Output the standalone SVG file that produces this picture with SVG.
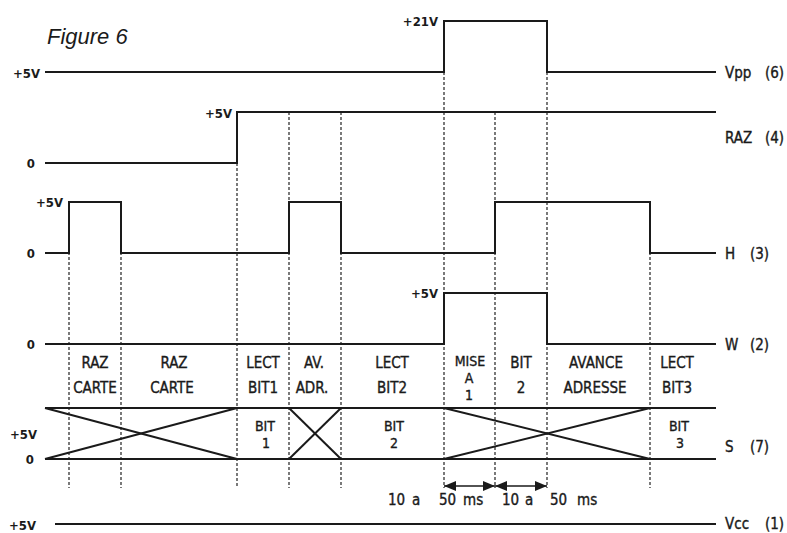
<svg xmlns="http://www.w3.org/2000/svg" width="787" height="533" viewBox="0 0 787 533">
<defs>
<style>
.sig{fill:none;stroke:#1a1a1a;stroke-width:2;stroke-linejoin:miter}
.dash{fill:none;stroke:#222;stroke-width:1.2;stroke-dasharray:3 2}
.t{font-family:"DejaVu Sans Condensed","DejaVu Sans",sans-serif;font-stretch:condensed;font-size:15px;fill:#1a1a1a;text-anchor:middle;stroke:#1a1a1a;stroke-width:0.35}
.t.k{font-size:14px}
.v{font-family:"DejaVu Sans Condensed","DejaVu Sans",sans-serif;font-stretch:condensed;font-size:13px;font-weight:bold;fill:#1a1a1a;text-anchor:end}
.r{font-family:"DejaVu Sans Condensed","DejaVu Sans",sans-serif;font-stretch:condensed;font-size:15px;fill:#1a1a1a;stroke:#1a1a1a;stroke-width:0.35}
.arr{stroke:#1a1a1a;stroke-width:1.6;fill:none}
</style>
<marker id="ah" viewBox="0 0 12 10" refX="12" refY="5" markerWidth="12" markerHeight="10" markerUnits="userSpaceOnUse" orient="auto-start-reverse">
<path d="M0,0 L12,5 L0,10 Z" fill="#1a1a1a"/>
</marker>
</defs>
<rect width="787" height="533" fill="#ffffff"/>
<text x="47" y="44" font-family="Liberation Sans,Arial,sans-serif" font-size="22" font-style="italic" fill="#1a1a1a">Figure 6</text>

<g id="guides">
<line class="dash" x1="69" y1="202" x2="69" y2="488"/>
<line class="dash" x1="121" y1="202" x2="121" y2="488"/>
<line class="dash" x1="237" y1="163" x2="237" y2="488"/>
<line class="dash" x1="289" y1="112" x2="289" y2="488"/>
<line class="dash" x1="341" y1="112" x2="341" y2="488"/>
<line class="dash" x1="444" y1="72" x2="444" y2="488"/>
<line class="dash" x1="495" y1="112" x2="495" y2="488"/>
<line class="dash" x1="547" y1="72" x2="547" y2="488"/>
<line class="dash" x1="650" y1="202" x2="650" y2="488"/>
</g>

<g id="vpp">
<text class="v" x="40" y="78">+5V</text>
<text class="v" x="438" y="26">+21V</text>
<polyline class="sig" points="45,72 444,72 444,21 547,21 547,72 716,72"/>
<text class="r" x="725" y="78">Vpp</text>
<text class="r" x="765" y="78">(6)</text>
</g>

<g id="raz">
<text class="v" x="35" y="168">0</text>
<text class="v" x="232" y="118">+5V</text>
<polyline class="sig" points="45,163 237,163 237,112 716,112"/>
<text class="r" x="725" y="143">RAZ</text>
<text class="r" x="765" y="143">(4)</text>
</g>

<g id="h">
<text class="v" x="63" y="207">+5V</text>
<text class="v" x="35" y="258">0</text>
<polyline class="sig" points="45,253 69,253 69,202 121,202 121,253 289,253 289,202 341,202 341,253 495,253 495,202 650,202 650,253 716,253"/>
<text class="r" x="725" y="259">H</text>
<text class="r" x="750" y="259">(3)</text>
</g>

<g id="w">
<text class="v" x="438" y="298">+5V</text>
<text class="v" x="35" y="349">0</text>
<polyline class="sig" points="45,344 444,344 444,293 547,293 547,344 716,344"/>
<text class="r" x="725" y="350">W</text>
<text class="r" x="750" y="350">(2)</text>
</g>

<g id="phases">
<text class="t" x="95" y="368">RAZ</text>
<text class="t" x="95" y="393">CARTE</text>
<text class="t" x="174" y="368">RAZ</text>
<text class="t" x="172" y="393">CARTE</text>
<text class="t" x="263" y="368">LECT</text>
<text class="t" x="263" y="393">BIT1</text>
<text class="t" x="314" y="368">AV.</text>
<text class="t" x="312" y="393">ADR.</text>
<text class="t" x="392" y="368">LECT</text>
<text class="t" x="392" y="393">BIT2</text>
<text class="t k" x="470" y="366">MISE</text>
<text class="t k" x="469" y="383">A</text>
<text class="t k" x="469" y="400">1</text>
<text class="t" x="521" y="368">BIT</text>
<text class="t" x="521" y="393">2</text>
<text class="t" x="596" y="368">AVANCE</text>
<text class="t" x="595" y="393">ADRESSE</text>
<text class="t" x="677" y="368">LECT</text>
<text class="t" x="677" y="393">BIT3</text>
</g>

<g id="s">
<text class="v" x="37" y="439">+5V</text>
<text class="v" x="34" y="464">0</text>
<line class="sig" x1="45" y1="408" x2="716" y2="408"/>
<line class="sig" x1="45" y1="459" x2="716" y2="459"/>
<line class="sig" x1="45" y1="408" x2="237" y2="459"/>
<line class="sig" x1="45" y1="459" x2="237" y2="408"/>
<line class="sig" x1="289" y1="408" x2="341" y2="459"/>
<line class="sig" x1="289" y1="459" x2="341" y2="408"/>
<line class="sig" x1="444" y1="408" x2="650" y2="459"/>
<line class="sig" x1="444" y1="459" x2="650" y2="408"/>
<text class="t k" x="265" y="431">BIT</text>
<text class="t k" x="266" y="448">1</text>
<text class="t k" x="394" y="431">BIT</text>
<text class="t k" x="394" y="448">2</text>
<text class="t k" x="679" y="431">BIT</text>
<text class="t k" x="680" y="448">3</text>
<text class="r" x="725" y="452">S</text>
<text class="r" x="750" y="452">(7)</text>
</g>

<g id="timing">
<line class="arr" x1="444" y1="486" x2="495" y2="486" marker-start="url(#ah)" marker-end="url(#ah)"/>
<line class="arr" x1="495" y1="486" x2="547" y2="486" marker-start="url(#ah)" marker-end="url(#ah)"/>
<text class="r" x="388" y="505" font-size="13">10</text>
<text class="r" x="412" y="505" font-size="13">a</text>
<text class="r" x="439" y="505" font-size="13">50</text>
<text class="r" x="463" y="505" font-size="13">ms</text>
<text class="r" x="502" y="505" font-size="13">10</text>
<text class="r" x="525" y="505" font-size="13">a</text>
<text class="r" x="550" y="505" font-size="13">50</text>
<text class="r" x="577" y="505" font-size="13">ms</text>
</g>

<g id="vcc">
<text class="v" x="36" y="530">+5V</text>
<line class="sig" x1="55" y1="524" x2="716" y2="524"/>
<text class="r" x="725" y="529">Vcc</text>
<text class="r" x="765" y="529">(1)</text>
</g>
</svg>
